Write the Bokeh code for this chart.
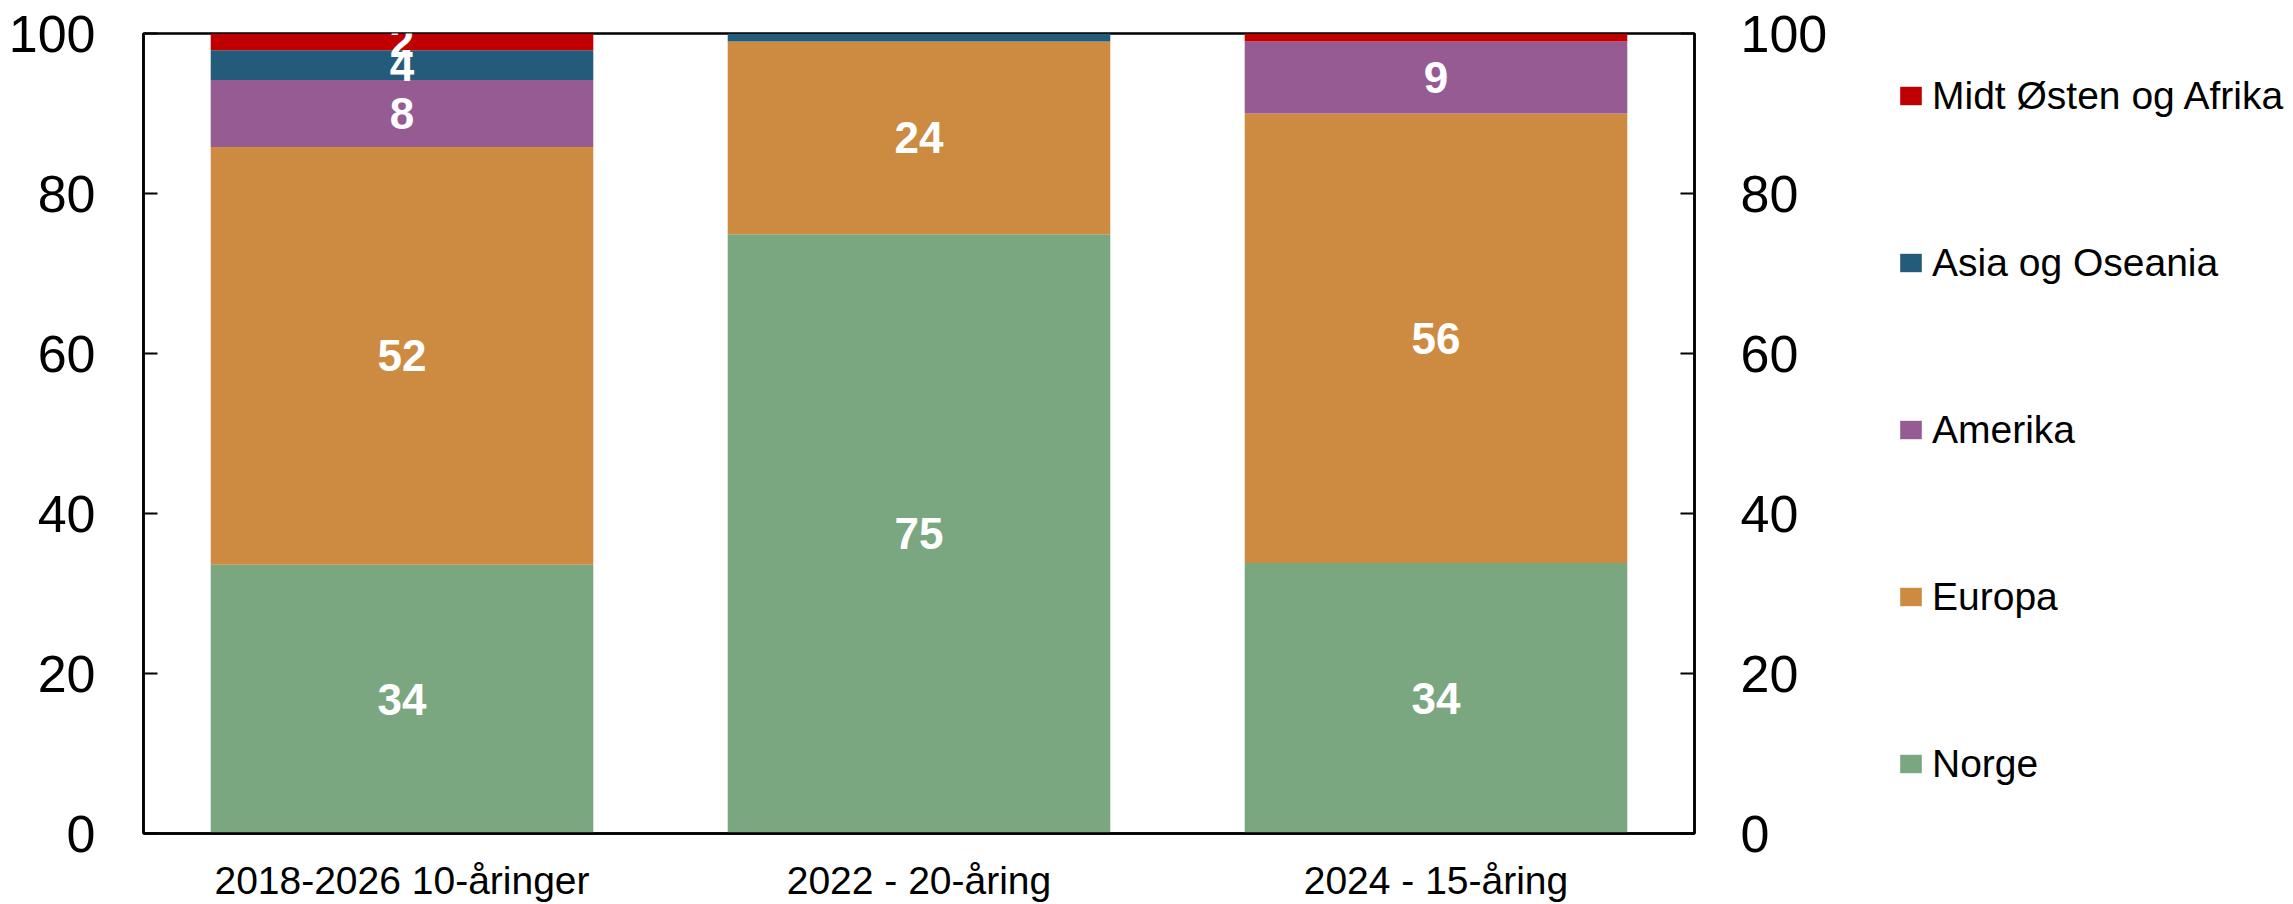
from bokeh.plotting import figure
from bokeh.layouts import row
from bokeh.models import (Range1d, FactorRange, LinearAxis, Legend, LegendItem,
                          ColumnDataSource, FixedTicker)
from bokeh.core.properties import value
from bokeh.embed import file_html
from bokeh.resources import INLINE

categories = ["2018-2026 10-åringer", "2022 - 20-åring", "2024 - 15-åring"]
series = ["Norge", "Europa", "Amerika", "Asia og Oseania", "Midt Østen og Afrika"]
norge = [33.6, 74.9, 33.8]
europa = [52.2, 24.1, 56.2]
amerika = [8.4, 0.0, 9.0]
asia = [3.7, 1.0, 0.0]
midtosten = [2.1, 0.0, 1.0]
colors = ["#7AA680", "#CD8B42", "#965B93", "#245B7A", "#C00000"]
y_ticks = [0, 20, 40, 60, 80, 100]

FONT = "Liberation Sans"
keys = ["norge", "europa", "amerika", "asia", "midtosten"]
data = dict(cat=categories, norge=norge, europa=europa, amerika=amerika,
            asia=asia, midtosten=midtosten)
source = ColumnDataSource(data)

MAIN_W = 1834
p = figure(x_range=FactorRange(factors=categories, range_padding=0),
           y_range=Range1d(0, 100), width=MAIN_W, height=904,
           output_backend="svg", toolbar_location=None,
           min_border_left=143, min_border_top=33, min_border_bottom=70,
           min_border_right=140)

renderers = p.vbar_stack(keys, x="cat", width=0.74, color=colors,
                         line_color=None, source=source)

# segment labels
lx, ly, lt = [], [], []
for i, c in enumerate(categories):
    base = 0.0
    for k in keys:
        v = data[k][i]
        if v >= 1.5:
            lx.append(c)
            ly.append(base + v / 2)
            lt.append(str(int(round(v))))
        base += v
p.text(x="cat", y="y", text="t",
       source=ColumnDataSource(dict(cat=lx, y=ly, t=lt)),
       text_color="white", text_font=value(FONT), text_font_style="bold",
       text_font_size="44px", text_align="center", text_baseline="middle")

# axes
p.yaxis.ticker = FixedTicker(ticks=y_ticks)
right = LinearAxis(ticker=FixedTicker(ticks=y_ticks))
p.add_layout(right, "right")
for ax in [p.yaxis[0], right]:
    ax.major_label_text_font = FONT
    ax.major_label_text_font_size = "52px"
    ax.major_label_text_color = "black"
    ax.axis_line_color = "black"
    ax.axis_line_width = 2.5
    ax.major_tick_line_color = "black"
    ax.major_tick_line_width = 2
    ax.major_tick_in = 14
    ax.major_tick_out = 0
    ax.minor_tick_line_color = None
p.yaxis[0].major_label_standoff = 48
right.major_label_standoff = 46

p.xaxis.major_label_text_font = FONT
p.xaxis.major_label_text_font_size = "39px"
p.xaxis.major_label_text_color = "black"
p.xaxis.axis_line_color = "black"
p.xaxis.axis_line_width = 2.5
p.xaxis.major_tick_line_color = None
p.xaxis.minor_tick_line_color = None
p.xaxis.major_label_standoff = 19

p.xgrid.visible = False
p.ygrid.visible = False
p.outline_line_color = "black"
p.outline_line_width = 2.5

# legend panel (separate figure so the legend is not clipped)
LEG_W = 2293 - MAIN_W
lf = figure(width=LEG_W, height=904, output_backend="svg", toolbar_location=None,
            x_axis_type=None, y_axis_type=None, x_range=(0, 1), y_range=(0, 1),
            min_border_left=0, min_border_right=0, min_border_top=0,
            min_border_bottom=0)
lf.outline_line_color = None
lf.xgrid.visible = False
lf.ygrid.visible = False
leg_rs = []
for k, col in zip(keys, colors):
    # proxy bars placed outside the visible range: only their legend swatch shows
    leg_rs.append(lf.vbar(x=[5], bottom=[5], top=[6], width=0.5,
                          fill_color=col, line_color=None))

items = [LegendItem(label=series[i], renderers=[leg_rs[i]])
         for i in reversed(range(len(series)))]
legend = Legend(items=items, location=(63, 47), orientation="vertical",
                label_text_font=FONT, label_text_font_size="39px",
                label_text_color="black",
                glyph_width=27, glyph_height=23, label_height=45,
                label_standoff=8, spacing=122, padding=0, margin=0,
                border_line_color=None, background_fill_alpha=0)
lf.add_layout(legend, "center")

layout = row(p, lf)
open("out.html", "w").write(file_html(layout, INLINE))
